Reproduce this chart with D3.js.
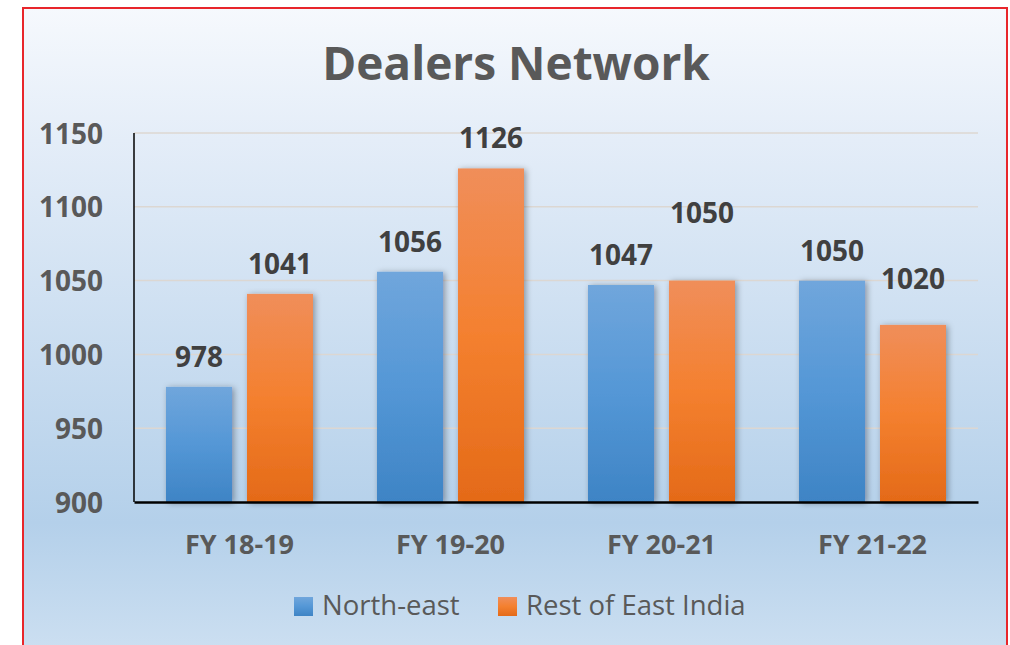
<!DOCTYPE html>
<html>
<head>
<meta charset="utf-8">
<script src="https://cdn.jsdelivr.net/npm/d3@7"></script>
<style>
  html, body { margin: 0; padding: 0; background: #ffffff; }
  svg { display: block; }
  text { font-family: "Open Sans", "DejaVu Sans", sans-serif; }
</style>
</head>
<body>
<script>
// ---- data ----
const categories = ["FY 18-19", "FY 19-20", "FY 20-21", "FY 21-22"];
const seriesNames = ["North-east", "Rest of East India"];
const northEast = [978, 1056, 1047, 1050];
const restOfEast = [1041, 1126, 1050, 1020];
const yTicks = [900, 950, 1000, 1050, 1100, 1150];
const titleText = "Dealers Network";

// ---- layout / style (not data) ----
const W = 1010, H = 645;
const plot = { left: 134, right: 978, top: 133, bottom: 502 };
const labelNudge = [[0, 0, 0, 0], [0, 0, -38, -16]]; // manual label placement as in the reference

const svg = d3.select("body").append("svg").attr("width", W).attr("height", H);
const defs = svg.append("defs");

const bg = defs.append("linearGradient").attr("id", "bg").attr("x1", 0).attr("y1", 0).attr("x2", 0).attr("y2", 1);
bg.append("stop").attr("offset", "0%").attr("stop-color", "#f6f9fd");
bg.append("stop").attr("offset", "20%").attr("stop-color", "#e4edf8");
bg.append("stop").attr("offset", "78%").attr("stop-color", "#b4d0ea");
bg.append("stop").attr("offset", "100%").attr("stop-color", "#cfe1f2");

const gBlue = defs.append("linearGradient").attr("id", "gBlue").attr("x1", 0).attr("y1", 0).attr("x2", 0).attr("y2", 1);
gBlue.append("stop").attr("offset", "0%").attr("stop-color", "#70a6dc");
gBlue.append("stop").attr("offset", "50%").attr("stop-color", "#5497d6");
gBlue.append("stop").attr("offset", "100%").attr("stop-color", "#3e84c5");

const gOrange = defs.append("linearGradient").attr("id", "gOrange").attr("x1", 0).attr("y1", 0).attr("x2", 0).attr("y2", 1);
gOrange.append("stop").attr("offset", "0%").attr("stop-color", "#f08e5a");
gOrange.append("stop").attr("offset", "50%").attr("stop-color", "#f4802f");
gOrange.append("stop").attr("offset", "100%").attr("stop-color", "#e46a18");

const shadow = defs.append("filter").attr("id", "shadow").attr("x", "-20%").attr("y", "-10%").attr("width", "150%").attr("height", "130%");
shadow.append("feDropShadow").attr("dx", 2).attr("dy", 1).attr("stdDeviation", 3)
  .attr("flood-color", "#000").attr("flood-opacity", 0.35);

// background + border
svg.append("rect").attr("x", 23).attr("y", 8).attr("width", 984).attr("height", 660)
  .attr("fill", "url(#bg)").attr("stroke", "#e8262b").attr("stroke-width", 2);

// title
svg.append("text").attr("x", 516).attr("y", 80).attr("text-anchor", "middle")
  .attr("font-size", 46).attr("font-weight", 700).attr("fill", "#595959")
  .text(titleText);

// scales
const y = d3.scaleLinear().domain([900, 1150]).range([plot.bottom, plot.top]);
const x0 = d3.scaleBand().domain(categories).range([plot.left, plot.right]).padding(0);
const x1 = d3.scaleBand().domain(seriesNames).range([32, 179]).paddingInner(0.185).paddingOuter(0);

// gridlines
svg.append("g").selectAll("line").data(yTicks.filter(t => t !== 900)).join("line")
  .attr("x1", plot.left).attr("x2", plot.right)
  .attr("y1", d => y(d)).attr("y2", d => y(d))
  .attr("stroke", "#dcd7d2").attr("stroke-width", 1.5);

// y axis tick labels
const yAxis = d3.axisLeft(y).tickValues(yTicks).tickFormat(d3.format("d")).tickSize(0).tickPadding(31);
const yg = svg.append("g").attr("transform", `translate(${plot.left},0)`).call(yAxis);
yg.select(".domain").remove();
yg.selectAll("text").attr("font-family", "Open Sans").attr("font-size", 28).attr("font-weight", 700)
  .attr("fill", "#595959").attr("dy", "0.36em");

// bars
const series = [northEast, restOfEast];
const fills = ["url(#gBlue)", "url(#gOrange)"];
const bars = [];
series.forEach((vals, si) => {
  vals.forEach((v, ci) => bars.push({ si, ci, v, cat: categories[ci], name: seriesNames[si] }));
});

svg.append("g").selectAll("rect").data(bars).join("rect")
  .attr("x", d => x0(d.cat) + x1(d.name))
  .attr("width", x1.bandwidth())
  .attr("y", d => y(d.v))
  .attr("height", d => y(900) - y(d.v))
  .attr("fill", d => fills[d.si])
  .attr("filter", "url(#shadow)");

// axis lines
svg.append("line").attr("x1", plot.left).attr("x2", plot.left).attr("y1", plot.top).attr("y2", plot.bottom)
  .attr("stroke", "#000").attr("stroke-width", 1.5);
const xAxis = d3.axisBottom(x0).tickSize(0).tickPadding(33);
const xg = svg.append("g").attr("transform", `translate(0,${plot.bottom})`).call(xAxis);
xg.select(".domain").attr("stroke", "#000").attr("stroke-width", 2.5);
xg.selectAll("text").attr("font-family", "Open Sans").attr("font-size", 27).attr("font-weight", 700)
  .attr("fill", "#595959").attr("dy", "0.71em");

// value labels
svg.append("g").selectAll("text").data(bars).join("text")
  .attr("x", d => x0(d.cat) + x1(d.name) + x1.bandwidth() / 2)
  .attr("y", d => y(d.v) - 20 + labelNudge[d.si][d.ci])
  .attr("text-anchor", "middle")
  .attr("font-size", 28).attr("font-weight", 700).attr("fill", "#404040")
  .text(d => d.v);

// legend
const legendX = [294, 498];
const lg = svg.append("g");
seriesNames.forEach((name, i) => {
  lg.append("rect").attr("x", legendX[i]).attr("y", 597).attr("width", 19).attr("height", 19)
    .attr("fill", fills[i]);
  lg.append("text").attr("x", legendX[i] + 28).attr("y", 615)
    .attr("font-size", 27.5).attr("fill", "#595959").text(name);
});
</script>
</body>
</html>
